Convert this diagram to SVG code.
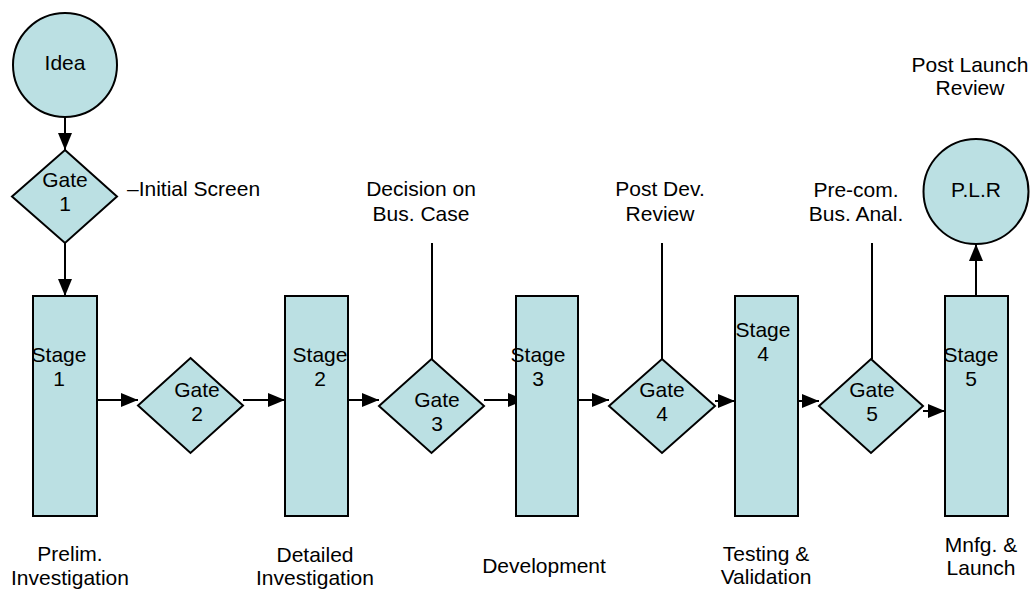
<svg xmlns="http://www.w3.org/2000/svg" width="1032" height="591" viewBox="0 0 1032 591">
<defs>
<style>
.shape{fill:#BBE0E3;stroke:#000;stroke-width:2}
.t{font-family:"Liberation Sans",Arial,sans-serif;font-size:21px;fill:#000;text-anchor:middle}
.c{stroke:#000;stroke-width:2;fill:none}
</style>
<marker id="ah" markerUnits="userSpaceOnUse" markerWidth="17" markerHeight="14" refX="17" refY="7" orient="auto">
<path d="M0,0 L17,7 L0,14 z" fill="#000"/>
</marker>
</defs>
<rect width="1032" height="591" fill="#fff"/>
<g id="connectors">
<line class="c" x1="65" y1="117" x2="65" y2="150" marker-end="url(#ah)"/>
<line class="c" x1="65" y1="243" x2="65" y2="296" marker-end="url(#ah)"/>
<line class="c" x1="97" y1="400" x2="138" y2="400" marker-end="url(#ah)"/>
<line class="c" x1="243" y1="400" x2="285" y2="400" marker-end="url(#ah)"/>
<line class="c" x1="348" y1="400" x2="379" y2="400" marker-end="url(#ah)"/>
<line class="c" x1="484" y1="400" x2="525" y2="400" marker-end="url(#ah)"/>
<line class="c" x1="578" y1="400" x2="609" y2="400" marker-end="url(#ah)"/>
<line class="c" x1="715" y1="401" x2="735" y2="401" marker-end="url(#ah)"/>
<line class="c" x1="798" y1="401" x2="819" y2="401" marker-end="url(#ah)"/>
<line class="c" x1="923" y1="411" x2="945" y2="411" marker-end="url(#ah)"/>
<line class="c" x1="976" y1="296" x2="976" y2="244" marker-end="url(#ah)"/>
<line class="c" x1="432" y1="243" x2="432" y2="359"/>
<line class="c" x1="662" y1="243" x2="662" y2="359"/>
<line class="c" x1="872" y1="243" x2="872" y2="359"/>
</g>
<g id="idea">
<circle class="shape" cx="65" cy="65" r="52"/>
<text class="t" x="65" y="70">Idea</text>
</g>
<g id="gate1">
<polygon class="shape" points="65,150 117,196.5 65,243 12,196.5"/>
<text class="t" x="65" y="187">Gate</text>
<text class="t" x="65" y="210.5">1</text>
</g>
<g id="initial-screen">
<text class="t" x="127" y="195.5" style="text-anchor:start">–Initial Screen</text>
</g>
<g id="stage1">
<rect class="shape" x="33" y="296" width="64" height="220"/>
<text class="t" x="59" y="361.5">Stage</text>
<text class="t" x="59" y="385.5">1</text>
</g>
<g id="gate2">
<polygon class="shape" points="190.5,358 243,405.5 190.5,453 138,405.5"/>
<text class="t" x="197" y="396.5">Gate</text>
<text class="t" x="197" y="420.5">2</text>
</g>
<g id="stage2">
<rect class="shape" x="285" y="296" width="63" height="220"/>
<text class="t" x="320" y="361.5">Stage</text>
<text class="t" x="320" y="385.5">2</text>
</g>
<g id="gate3">
<polygon class="shape" points="431.5,359 484,406 431.5,453 379,406"/>
<text class="t" x="437" y="406.5">Gate</text>
<text class="t" x="437" y="430.5">3</text>
</g>
<g id="decision">
<text class="t" x="421" y="195.5">Decision on</text>
<text class="t" x="421" y="220.5">Bus. Case</text>
</g>
<g id="stage3">
<rect class="shape" x="516" y="296" width="62" height="220"/>
<text class="t" x="538" y="361.5">Stage</text>
<text class="t" x="538" y="385.5">3</text>
</g>
<g id="gate4">
<polygon class="shape" points="662,359 715,406 662,453 609,406"/>
<text class="t" x="662" y="396.5">Gate</text>
<text class="t" x="662" y="420.5">4</text>
</g>
<g id="post-dev">
<text class="t" x="660" y="195.5">Post Dev.</text>
<text class="t" x="660" y="220.5">Review</text>
</g>
<g id="stage4">
<rect class="shape" x="735" y="296" width="63" height="220"/>
<text class="t" x="763" y="336.5">Stage</text>
<text class="t" x="763" y="360.5">4</text>
</g>
<g id="gate5">
<polygon class="shape" points="871,359 923,406 871,453 819,406"/>
<text class="t" x="872" y="396.5">Gate</text>
<text class="t" x="872" y="420.5">5</text>
</g>
<g id="pre-com">
<text class="t" x="856" y="197">Pre-com.</text>
<text class="t" x="856" y="220.5">Bus. Anal.</text>
</g>
<g id="stage5">
<rect class="shape" x="945" y="296" width="63" height="220"/>
<text class="t" x="971" y="361.5">Stage</text>
<text class="t" x="971" y="385.5">5</text>
</g>
<g id="plr">
<circle class="shape" cx="976" cy="191.5" r="52.5"/>
<text class="t" x="976" y="196.5">P.L.R</text>
</g>
<g id="post-launch">
<text class="t" x="970" y="71.5">Post Launch</text>
<text class="t" x="970" y="94.5">Review</text>
</g>
<g id="bottom-labels">
<text class="t" x="70" y="561">Prelim.</text>
<text class="t" x="70" y="585">Investigation</text>
<text class="t" x="315" y="562">Detailed</text>
<text class="t" x="315" y="585">Investigation</text>
<text class="t" x="544" y="573">Development</text>
<text class="t" x="766" y="561">Testing &amp;</text>
<text class="t" x="766" y="584">Validation</text>
<text class="t" x="981" y="552">Mnfg. &amp;</text>
<text class="t" x="981" y="575">Launch</text>
</g>
</svg>
